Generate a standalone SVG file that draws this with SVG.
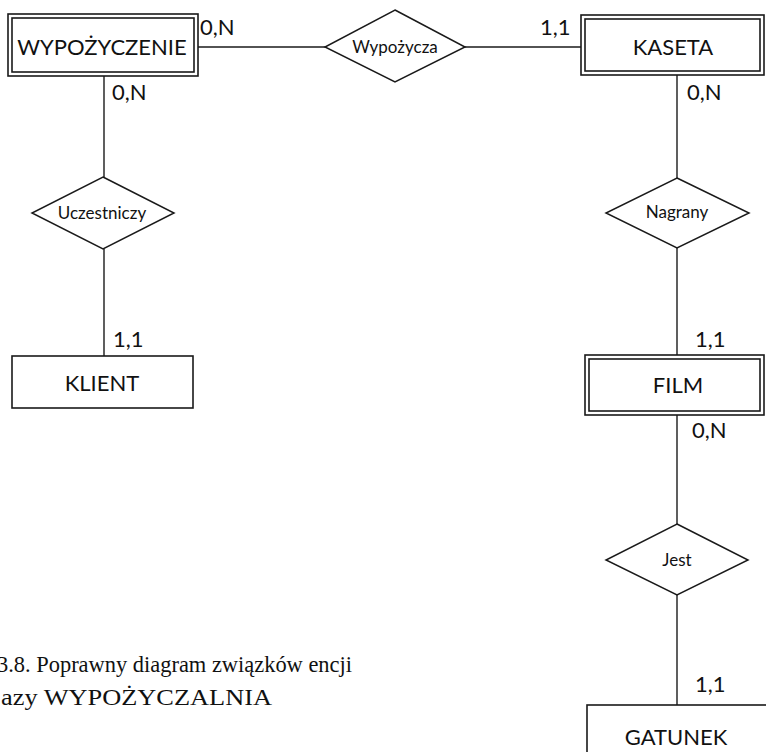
<svg xmlns="http://www.w3.org/2000/svg" width="766" height="752" viewBox="0 0 766 752">
  <style>
    .box { fill: #ffffff; stroke: #1a1a1a; stroke-width: 1.6; }
    .dia { fill: #ffffff; stroke: #1a1a1a; stroke-width: 1.5; }
    .link { stroke: #1a1a1a; stroke-width: 1.4; fill: none; }
    .ent { font-family: Lato, "Open Sans", sans-serif; font-size: 22px; fill: #111; text-anchor: middle; }
    .rel { font-family: Lato, "Open Sans", sans-serif; font-size: 17px; fill: #111; text-anchor: middle; }
    .card { font-family: Lato, "Open Sans", sans-serif; font-size: 22px; fill: #111; }
    .cap { font-family: "Liberation Serif", "Times New Roman", serif; font-size: 23px; fill: #111; }
  </style>

  <!-- connectors -->
  <g id="connectors">
    <line class="link" x1="198" y1="47" x2="325" y2="47"/>
    <line class="link" x1="465" y1="47" x2="581" y2="47"/>
    <line class="link" x1="104" y1="76" x2="104" y2="177"/>
    <line class="link" x1="104" y1="249" x2="104" y2="356"/>
    <line class="link" x1="677" y1="75" x2="677" y2="178"/>
    <line class="link" x1="677" y1="248" x2="677" y2="355"/>
    <line class="link" x1="677" y1="415" x2="677" y2="524"/>
    <line class="link" x1="677" y1="595" x2="677" y2="705"/>
  </g>

  <!-- entities -->
  <g id="wypozyczenie">
    <rect class="box" x="8" y="14" width="190" height="62"/>
    <rect class="box" x="12" y="18" width="182" height="54"/>
    <text class="ent" x="102" y="55">WYPOŻYCZENIE</text>
  </g>
  <g id="kaseta">
    <rect class="box" x="581" y="15" width="183" height="60"/>
    <rect class="box" x="585" y="19" width="175" height="52"/>
    <text class="ent" x="673" y="55">KASETA</text>
  </g>
  <g id="klient">
    <rect class="box" x="12" y="356" width="181" height="52"/>
    <text class="ent" x="102" y="391">KLIENT</text>
  </g>
  <g id="film">
    <rect class="box" x="585" y="355" width="179" height="60"/>
    <rect class="box" x="589" y="359" width="171" height="52"/>
    <text class="ent" x="678" y="393">FILM</text>
  </g>
  <g id="gatunek">
    <rect class="box" x="587" y="705" width="185" height="60"/>
    <text class="ent" x="676" y="745">GATUNEK</text>
  </g>

  <!-- relationships -->
  <g id="wypozycza">
    <polygon class="dia" points="395,10 465,47 395,82 325,47"/>
    <text class="rel" x="395" y="53">Wypożycza</text>
  </g>
  <g id="uczestniczy">
    <polygon class="dia" points="103,177 174,213 103,249 32,213"/>
    <text class="rel" x="102" y="219">Uczestniczy</text>
  </g>
  <g id="nagrany">
    <polygon class="dia" points="677,178 749,213 677,248 606,213"/>
    <text class="rel" x="677" y="218">Nagrany</text>
  </g>
  <g id="jest">
    <polygon class="dia" points="677,524 748,560 677,595 606,560"/>
    <text class="rel" x="677" y="566">Jest</text>
  </g>

  <!-- cardinalities -->
  <g id="cardinalities">
    <text class="card" x="200" y="35">0,N</text>
    <text class="card" x="112" y="100">0,N</text>
    <text class="card" x="540" y="35">1,1</text>
    <text class="card" x="687" y="100">0,N</text>
    <text class="card" x="113" y="347">1,1</text>
    <text class="card" x="695" y="347">1,1</text>
    <text class="card" x="692" y="438">0,N</text>
    <text class="card" x="695" y="692">1,1</text>
  </g>

  <!-- caption -->
  <g id="caption">
    <text class="cap" x="-3" y="672" textLength="355" lengthAdjust="spacingAndGlyphs">3.8. Poprawny diagram związków encji</text>
    <text class="cap" x="1" y="705" textLength="271" lengthAdjust="spacingAndGlyphs">azy WYPOŻYCZALNIA</text>
  </g>
</svg>
